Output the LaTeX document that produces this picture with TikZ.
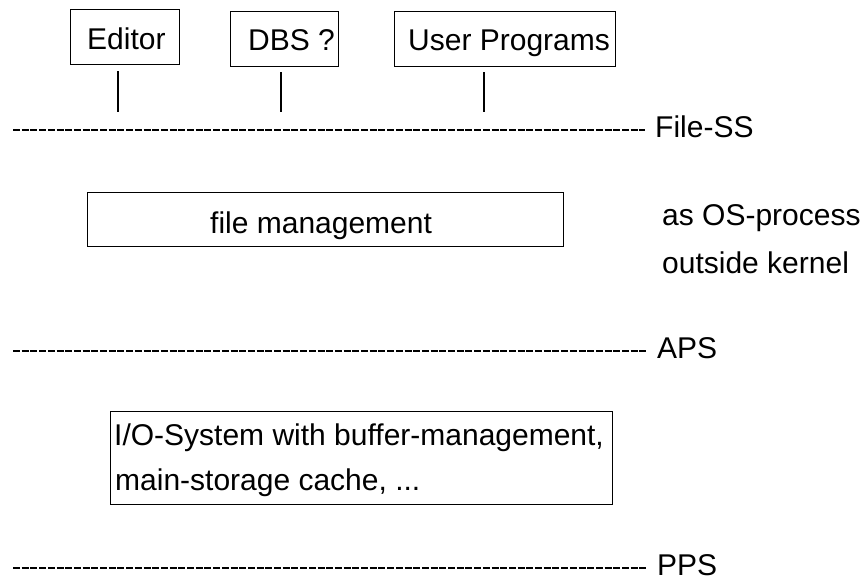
\documentclass[tikz,border=0pt]{standalone}
\usepackage{fontspec}
\setmainfont{Liberation Sans}
\begin{document}
\begin{tikzpicture}[x=1pt,y=-1pt,
  box/.style={draw, line width=1.2pt, inner sep=0pt, anchor=north west},
  txt/.style={inner sep=0pt, anchor=base west, font=\fontsize{30}{36}\selectfont},
  tick/.style={line width=1.2pt},
  level/.style={line width=1.3pt, dash pattern=on 7pt off 1.7pt, shorten >=10pt},
]
\useasboundingbox (0,0) rectangle (867,582);

% application programs on top
\node[box, minimum width=109pt, minimum height=55pt] (edbox) at (70,9) {};
\node[txt] (edtxt) at (87,49) {Editor};
\node[box, minimum width=108pt, minimum height=55pt] (dbbox) at (230,11) {};
\node[txt] (dbtxt) at (248,50) {DBS ?};
\node[box, minimum width=221pt, minimum height=55pt] (upbox) at (394,11) {};
\node[txt] (uptxt) at (408,50) {User Programs};

% short links down to the file interface
\coordinate (edend) at (118,112);
\coordinate (dbend) at (281,112);
\coordinate (upend) at (484,112);
\draw[tick, shorten <=6pt] (edend |- edbox.south) -- (edend);
\draw[tick, shorten <=5pt] (dbend |- dbbox.south) -- (dbend);
\draw[tick, shorten <=5pt] (upend |- upbox.south) -- (upend);

% interface levels
\coordinate (fsL) at (13,130);
\node[txt] (fslab) at (655,137) {File-SS};
\draw[level] (fsL) -- (fsL -| fslab.west);

\coordinate (apL) at (13,351);
\node[txt] (aplab) at (657,358) {APS};
\draw[level] (apL) -- (apL -| aplab.west);

\coordinate (ppL) at (13,568);
\node[txt] (pplab) at (657,575) {PPS};
\draw[level] (ppL) -- (ppL -| pplab.west);

% file management layer
\node[box, minimum width=476pt, minimum height=54pt] (fmbox) at (87,192) {};
\node[txt] (fmtxt) at (210,233) {file management};
\node[txt] (os1) at (662,225) {as OS-process};
\node[txt] (os2) at (662,273) {outside kernel};

% I/O layer
\node[box, minimum width=502pt, minimum height=93pt] (iobox) at (110,411) {};
\node[txt] (io1) at (114,445) {I/O-System with buffer-management,};
\node[txt] (io2) at (115,490) {main-storage cache, ...};
\end{tikzpicture}
\end{document}
